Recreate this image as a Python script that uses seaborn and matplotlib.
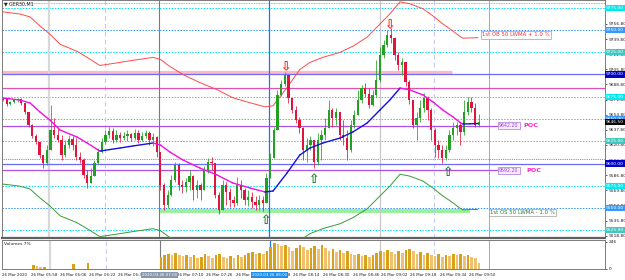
import matplotlib
matplotlib.use("Agg")
import matplotlib.pyplot as plt
import matplotlib.transforms as mtrans
import numpy as np
import pandas as pd
import seaborn as sns

sns.set_style("white")
plt.rcParams["font.family"] = ["DejaVu Sans"]

# ---------------- data ----------------
first_open = 9671.5
close = [9672.5, 9667, 9669, 9671.5, 9672.5, 9668, 9658, 9643, 9631, 9624,
         9609.5, 9600.5, 9615, 9637.5, 9632, 9626.5, 9609.5, 9621, 9627.5, 9621,
         9607.5, 9604, 9587, 9578, 9586, 9600.5, 9613, 9624, 9632, 9636.5,
         9626.5, 9632, 9628.5, 9631, 9633, 9628.5, 9634.5, 9626.5, 9631, 9634.5,
         9626.5, 9630, 9613, 9576, 9553.5, 9564.5, 9581.5, 9598.5, 9576, 9573.5,
         9579, 9586, 9570, 9576, 9570, 9592.5, 9601.5, 9600.5, 9564.5, 9548,
         9576, 9568, 9559, 9555.5, 9576, 9570, 9559, 9562.5, 9557, 9553.5,
         9559, 9555.5, 9583.5, 9606, 9637.5, 9677, 9689.5, 9699.5, 9673.5, 9660,
         9649, 9640, 9615, 9621, 9626.5, 9601.5, 9626.5, 9632, 9640, 9660,
         9651, 9658, 9632, 9628.5, 9615, 9643, 9654.5, 9671.5, 9685, 9678,
         9665.5, 9677, 9694, 9722, 9733, 9744.5, 9741, 9722, 9710.5, 9714,
         9691.5, 9671.5, 9643, 9651, 9662.5, 9673.5, 9660, 9637.5, 9621, 9615,
         9606, 9615, 9632, 9640, 9643, 9635.5, 9658, 9669, 9662.5, 9643,
         9646.5]
high = [9674.5, 9672.5, 9670, 9672.5, 9673.5, 9673.5, 9668, 9658, 9644.5, 9633,
        9624, 9609.5, 9621, 9665.5, 9651, 9640, 9632, 9626.5, 9632, 9631,
        9628.5, 9613, 9606, 9592.5, 9595, 9604, 9617.5, 9628.5, 9637.5, 9641,
        9640, 9637.5, 9635.5, 9635.5, 9637.5, 9634.5, 9638.5, 9637.5, 9635.5, 9637.5,
        9636.5, 9634.5, 9631, 9613, 9578, 9570, 9587, 9601.5, 9600.5, 9581.5,
        9583.5, 9592.5, 9587, 9581.5, 9578, 9597, 9606, 9607.5, 9600.5, 9568,
        9581.5, 9579, 9572.5, 9563.5, 9585, 9581.5, 9572.5, 9570, 9568, 9563.5,
        9564.5, 9563.5, 9589.5, 9612, 9641, 9682.5, 9694, 9702.5, 9699.5, 9671.5,
        9664.5, 9652, 9641, 9628.5, 9631, 9626.5, 9634.5, 9637.5, 9651, 9671.5,
        9662.5, 9662.5, 9658, 9649, 9637.5, 9649, 9660, 9682.5, 9688, 9690.5,
        9685, 9682.5, 9716.5, 9731, 9739, 9750, 9752, 9742, 9725.5, 9718.5,
        9714, 9694, 9671.5, 9658, 9671.5, 9679, 9676, 9662.5, 9640, 9626.5,
        9621, 9621, 9637.5, 9646.5, 9646.5, 9646.5, 9671.5, 9675, 9675, 9668,
        9656]
low = [9670, 9664.5, 9665.5, 9668, 9669, 9665.5, 9655.5, 9641, 9628.5, 9622,
       9606, 9595, 9598.5, 9615, 9628.5, 9624, 9604, 9607.5, 9617.5, 9615,
       9604, 9600.5, 9583.5, 9572.5, 9579, 9587, 9599.5, 9612, 9622, 9628.5,
       9623, 9624, 9624, 9626.5, 9625.5, 9625.5, 9626.5, 9623, 9625.5, 9628.5,
       9621, 9620, 9607.5, 9570, 9548, 9550, 9563.5, 9579, 9570, 9567,
       9568, 9570, 9559, 9561, 9559, 9576, 9589.5, 9592.5, 9561, 9543.5,
       9553.5, 9553.5, 9551, 9551, 9553.5, 9561, 9553.5, 9552, 9550, 9548,
       9548, 9546.5, 9555.5, 9583.5, 9606, 9637.5, 9676, 9687, 9668, 9657,
       9645.5, 9634.5, 9604, 9601.5, 9615, 9595, 9598.5, 9604, 9626.5, 9640,
       9641, 9643, 9626.5, 9621, 9604, 9613, 9640, 9654.5, 9668, 9675,
       9662.5, 9664.5, 9675, 9691.5, 9718.5, 9731, 9735.5, 9716.5, 9705, 9699.5,
       9687, 9667, 9640, 9626.5, 9646.5, 9658, 9648.5, 9626.5, 9607.5, 9606,
       9600.5, 9604, 9613, 9626.5, 9632, 9621, 9632, 9654.5, 9658, 9641.5,
       9641.5]
volume = [0, 0, 0, 0, 0, 0, 0, 0, 35, 26,
          18, 18, 0, 0, 0, 0, 0, 0, 0, 44,
          0, 0, 0, 53, 0, 0, 0, 0, 0, 0,
          0, 0, 0, 0, 0, 0, 0, 0, 0, 0,
          0, 0, 0, 105, 123, 140, 132, 150, 123, 114,
          132, 105, 123, 97, 105, 140, 114, 97, 123, 140,
          105, 97, 114, 97, 123, 105, 132, 150, 158, 140,
          150, 140, 167, 202, 237, 229, 211, 220, 202, 167,
          193, 220, 202, 176, 193, 211, 185, 220, 193, 167,
          185, 158, 176, 150, 167, 140, 123, 140, 114, 132,
          105, 123, 150, 167, 158, 176, 158, 140, 167, 150,
          176, 185, 167, 140, 158, 123, 150, 132, 114, 140,
          105, 132, 114, 140, 123, 140, 114, 132, 105, 97,
          53]
# 50 LWMA (bar index, price)
ma_x = [0, 4.6, 7.4, 10.1, 12.8, 15.6, 20.2, 23.0, 26.0, 26.5, 32.0, 35.5, 41.0,
        43.0, 45.6, 49.2, 53.8, 58.5, 62.8, 67.5, 71.6, 73.8, 77.6, 81.1, 83.9,
        87.4, 92.1, 95.6, 99.5, 103.0, 105.7, 108.5, 111.2, 114.8, 117.5, 120.2,
        123.0, 124.9, 125.7, 127.6, 129.8]
ma_y = [9673.6, 9671.3, 9668.0, 9657.9, 9648.9, 9637.6, 9629.8, 9623.0, 9615.2,
        9614.0, 9617.4, 9619.7, 9623.0, 9620.8, 9612.9, 9603.9, 9594.9, 9587.1,
        9578.1, 9572.5, 9568.0, 9569.1, 9589.3, 9609.5, 9617.4, 9623.0, 9628.6,
        9635.4, 9645.5, 9660.1, 9671.3, 9684.8, 9682.6, 9677.0, 9669.1, 9660.1,
        9652.2, 9646.1, 9644.4, 9644.6, 9644.9]
envelope_pct = 1.0

price_ticks = [9773.8, 9756.8, 9739.8, 9722.8, 9705.8, 9688.8, 9671.8, 9654.8,
               9637.8, 9620.8, 9603.8, 9586.8, 9569.8, 9552.8, 9535.8, 9518.8]
round_levels = [9775, 9750, 9725, 9700, 9675, 9650, 9625, 9600, 9575, 9550, 9525]
poc_levels = [9642.2, 9592.2]

time_tick_pos = [-0.55, 7.38, 15.3, 23.2, 31.1, 39.3, 47.3, 55.2, 63.4, 71.3,
                 79.2, 87.2, 95.4, 103.3, 111.2, 119.4, 127.3]
time_tick_lab = ["26 Mar 2020", "26 Mar 05:58", "26 Mar 06:06", "26 Mar 06:22",
                 "26 Mar 06:38", "26 Mar 06:54", "26 Mar 07:10", "26 Mar 07:26",
                 "26 Mar 07:42", "26 Mar 07:58", "26 Mar 08:14", "26 Mar 08:30",
                 "26 Mar 08:46", "26 Mar 09:02", "26 Mar 09:18", "26 Mar 09:34",
                 "26 Mar 09:50"]
vlines_x = [12.57, 27.87, 42.6, 72.7, 103.0, 117.8, 132.8]
up_arrows = [(71.6, 9535.5), (84.7, 9581.5), (121.3, 9589.5)]
down_arrows = [(77.3, 9708.0), (105.7, 9755.0)]

# ---------------- figure ----------------
fig = plt.figure(figsize=(6.25, 2.8), dpi=100)
ax = fig.add_axes([2 / 625, 42 / 280, 603 / 625, 238 / 280])
axv = fig.add_axes([2 / 625, 11 / 280, 603 / 625, 29 / 280])
XL = (-0.27, 164.5)
ax.set_xlim(*XL)
axv.set_xlim(*XL)
ax.set_ylim(9516.3, 9783.7)
axv.set_ylim(0, 264)
FS = 3.2

for a in (ax, axv):
    for s in a.spines.values():
        s.set_color("#7a7a7a")
        s.set_linewidth(0.7)
ax.spines["bottom"].set_linewidth(1.6)
ax.spines["bottom"].set_color("#606060")

# horizontal levels
ax.axhline(9780.3, color="#e060e0", ls=(0, (1, 1)), lw=0.6, zorder=1)
cyan_lv = [9775, 9725, 9675, 9625, 9575, 9525]
for lv in cyan_lv:
    ax.axhline(lv, color="#00dcf0", ls=(0, (1.5, 1.5)), lw=0.7, zorder=1)
for lv in [9750, 9550]:
    ax.axhline(lv, color="#3090ff", ls=(0, (1.5, 1.5)), lw=0.7, zorder=1)
ax.axhline(9650, color="#8ca0b4", ls=(0, (1.5, 1.5)), lw=0.7, zorder=1)
ax.hlines(9702.8, XL[0], 122.7, color="#ffb8c4", lw=2.3, zorder=1)
for lv in [9700, 9600]:
    ax.axhline(lv, color="#6a6aff", lw=0.9, zorder=2)
ax.axhline(9684.8, color="#e050b0", lw=0.9, zorder=2)
ax.axhline(9605.0, color="#4a8a4a", ls=(0, (1, 1.2)), lw=0.6, zorder=1)
for lv in poc_levels:
    ax.hlines(lv, XL[0], 135.3, color="#b050e0", lw=0.9, zorder=2)
ax.hlines(9546.6, 42.9, 127.6, color="#98f098", lw=2.8, zorder=1)

# vertical separators
vstyle = [dict(color="#d8d8d8", lw=1.6), dict(color="#c8c8f0", lw=0.8, ls=(0, (4, 3))),
          dict(color="#7a7a7a", lw=0.8), dict(color="#1e78e0", lw=0.9),
          dict(color="#c8c8c8", lw=0.9), dict(color="#c8c8f0", lw=0.8, ls=(0, (4, 3))),
          dict(color="#a8a8a8", lw=0.7)]
for xv, st in zip(vlines_x, vstyle):
    ax.axvline(xv, zorder=1, **st)
    axv.axvline(xv, zorder=1, **st)

# envelopes (LWMA +/- 1%)
env = pd.DataFrame({"x": ma_x, "ma": ma_y})
env["upper"] = env["ma"] * (1 + envelope_pct / 100)
env["lower"] = env["ma"] * (1 - envelope_pct / 100)
sns.lineplot(data=env, x="x", y="upper", ax=ax, color="#ff4a4a", lw=0.7, zorder=3)
sns.lineplot(data=env, x="x", y="lower", ax=ax, color="#3a9a3a", lw=0.7, zorder=3)

# candles
c = np.array(close, dtype=float)
o = np.r_[first_open, c[:-1]]
h = np.maximum(np.array(high, dtype=float), np.maximum(o, c))
l = np.minimum(np.array(low, dtype=float), np.minimum(o, c))
xb = np.arange(len(c))
upc = c >= o
ccol = np.where(upc, "#22a022", "#e0143c")
ax.vlines(xb, l, h, colors=ccol, lw=0.55, zorder=4)
ax.bar(xb, np.maximum(np.abs(c - o), 0.9), bottom=np.minimum(o, c), width=0.62,
       color=ccol, lw=0, zorder=5)

# LWMA coloured by slope
mx = np.array(ma_x); my = np.array(ma_y)
for k in range(len(mx) - 1):
    colr = "#1010e0" if my[k + 1] >= my[k] else "#f010e0"
    ax.plot(mx[k:k + 2], my[k:k + 2], color=colr, lw=1.0, zorder=6,
            solid_capstyle="round")

# arrows
for xa, ya in up_arrows:
    ax.text(xa, ya, "\u21e7", color="#1f7a1f", fontsize=9, ha="center", va="center",
            zorder=7, fontweight="bold")
for xa, ya in down_arrows:
    ax.text(xa, ya, "\u21e9", color="#ff1a1a", fontsize=9, ha="center", va="center",
            zorder=7, fontweight="bold")

# labels
ax.text(130.9, 9744.4, "1st OB 50 LWMA + 1.0 %", color="#ff3030", fontsize=3.9,
        ha="left", va="center", zorder=8,
        bbox=dict(boxstyle="square,pad=0.2", fc="white", ec="#a0a0a0", lw=0.5))
ax.text(133.0, 9544.9, "1st OS 50 LWMA - 1.0 %", color="#2e7d2e", fontsize=3.9,
        ha="left", va="center", zorder=8,
        bbox=dict(boxstyle="square,pad=0.2", fc="white", ec="#a0a0a0", lw=0.5))
for lv, px in zip(poc_levels, [142.1, 142.9]):
    ax.text(135.6, lv, f"{lv:.2f}", color="#a040d0", fontsize=3.4, ha="left", va="center",
            zorder=8, bbox=dict(boxstyle="square,pad=0.2", fc="#f6ecff", ec="#b070e0", lw=0.5))
    ax.text(px, lv, "POC", color="#ff20d0", fontsize=4.6, fontweight="bold",
            ha="left", va="center", zorder=8)
ax.text(0.003, 0.983, "\u25bc GER30,M1", transform=ax.transAxes, fontsize=3.4,
        ha="left", va="center", color="#202020")

# right price axis
ax.yaxis.tick_right()
ax.set_yticks(price_ticks)
ax.set_yticklabels([f"{t:.2f}" for t in price_ticks])
ax.tick_params(axis="y", labelsize=FS, length=1.5, width=0.5, pad=1, colors="#202020")
ax.set_xticks([])
ax.set_xlabel(""); ax.set_ylabel("")
box_cols = {0: "#00e8f0", 1: "#3399ff", 2: "#40c8c0", 3: "#0000cc"}
tr = mtrans.blended_transform_factory(ax.transAxes, ax.transData)
for k, lv in enumerate(round_levels):
    ax.text(1.002, lv, f"{lv:.2f}", transform=tr, fontsize=FS, color="white",
            ha="left", va="center", zorder=10, clip_on=False,
            bbox=dict(boxstyle="square,pad=0.25", fc=box_cols[k % 4], ec="none"))
ax.text(1.002, c[-1], f"{c[-1]:.2f}", transform=tr, fontsize=FS, color="white",
        ha="left", va="center", zorder=10, clip_on=False,
        bbox=dict(boxstyle="square,pad=0.25", fc="black", ec="none"))

# volume panel
v = np.array(volume, dtype=float)
vcol = ["#d9a11a" if (k == 0 or v[k] >= v[k - 1]) else "#eec070" for k in range(len(v))]
axv.bar(xb, v, width=0.72, color=vcol, lw=0, zorder=3)
axv.yaxis.tick_right()
axv.set_yticks([0, 246])
axv.set_yticklabels(["0", "246"])
axv.tick_params(axis="y", labelsize=FS, length=1.5, width=0.5, pad=1, colors="#202020")
axv.text(0.003, 0.86, "Volumes 7%", transform=axv.transAxes, fontsize=FS,
         ha="left", va="center", color="#202020")
axv.set_xticks(time_tick_pos)
axv.set_xticklabels(time_tick_lab)
for t in axv.get_xticklabels():
    t.set_horizontalalignment("left")
axv.tick_params(axis="x", labelsize=2.9, length=1.5, width=0.5, pad=1.2, colors="#202020")
axv.set_xlabel(""); axv.set_ylabel("")
trx = mtrans.blended_transform_factory(axv.transData, axv.transAxes)
axv.text(42.6, -0.2, "2020.03.26 07:00", transform=trx, fontsize=2.9, color="white",
         ha="center", va="center", zorder=10, clip_on=False,
         bbox=dict(boxstyle="square,pad=0.3", fc="#8898ac", ec="none"))
axv.text(72.7, -0.2, "2020.03.26 08:00", transform=trx, fontsize=2.9, color="white",
         ha="center", va="center", zorder=10, clip_on=False,
         bbox=dict(boxstyle="square,pad=0.3", fc="#1e8ff0", ec="none"))

fig.savefig("out.png", dpi=100, facecolor="white")
